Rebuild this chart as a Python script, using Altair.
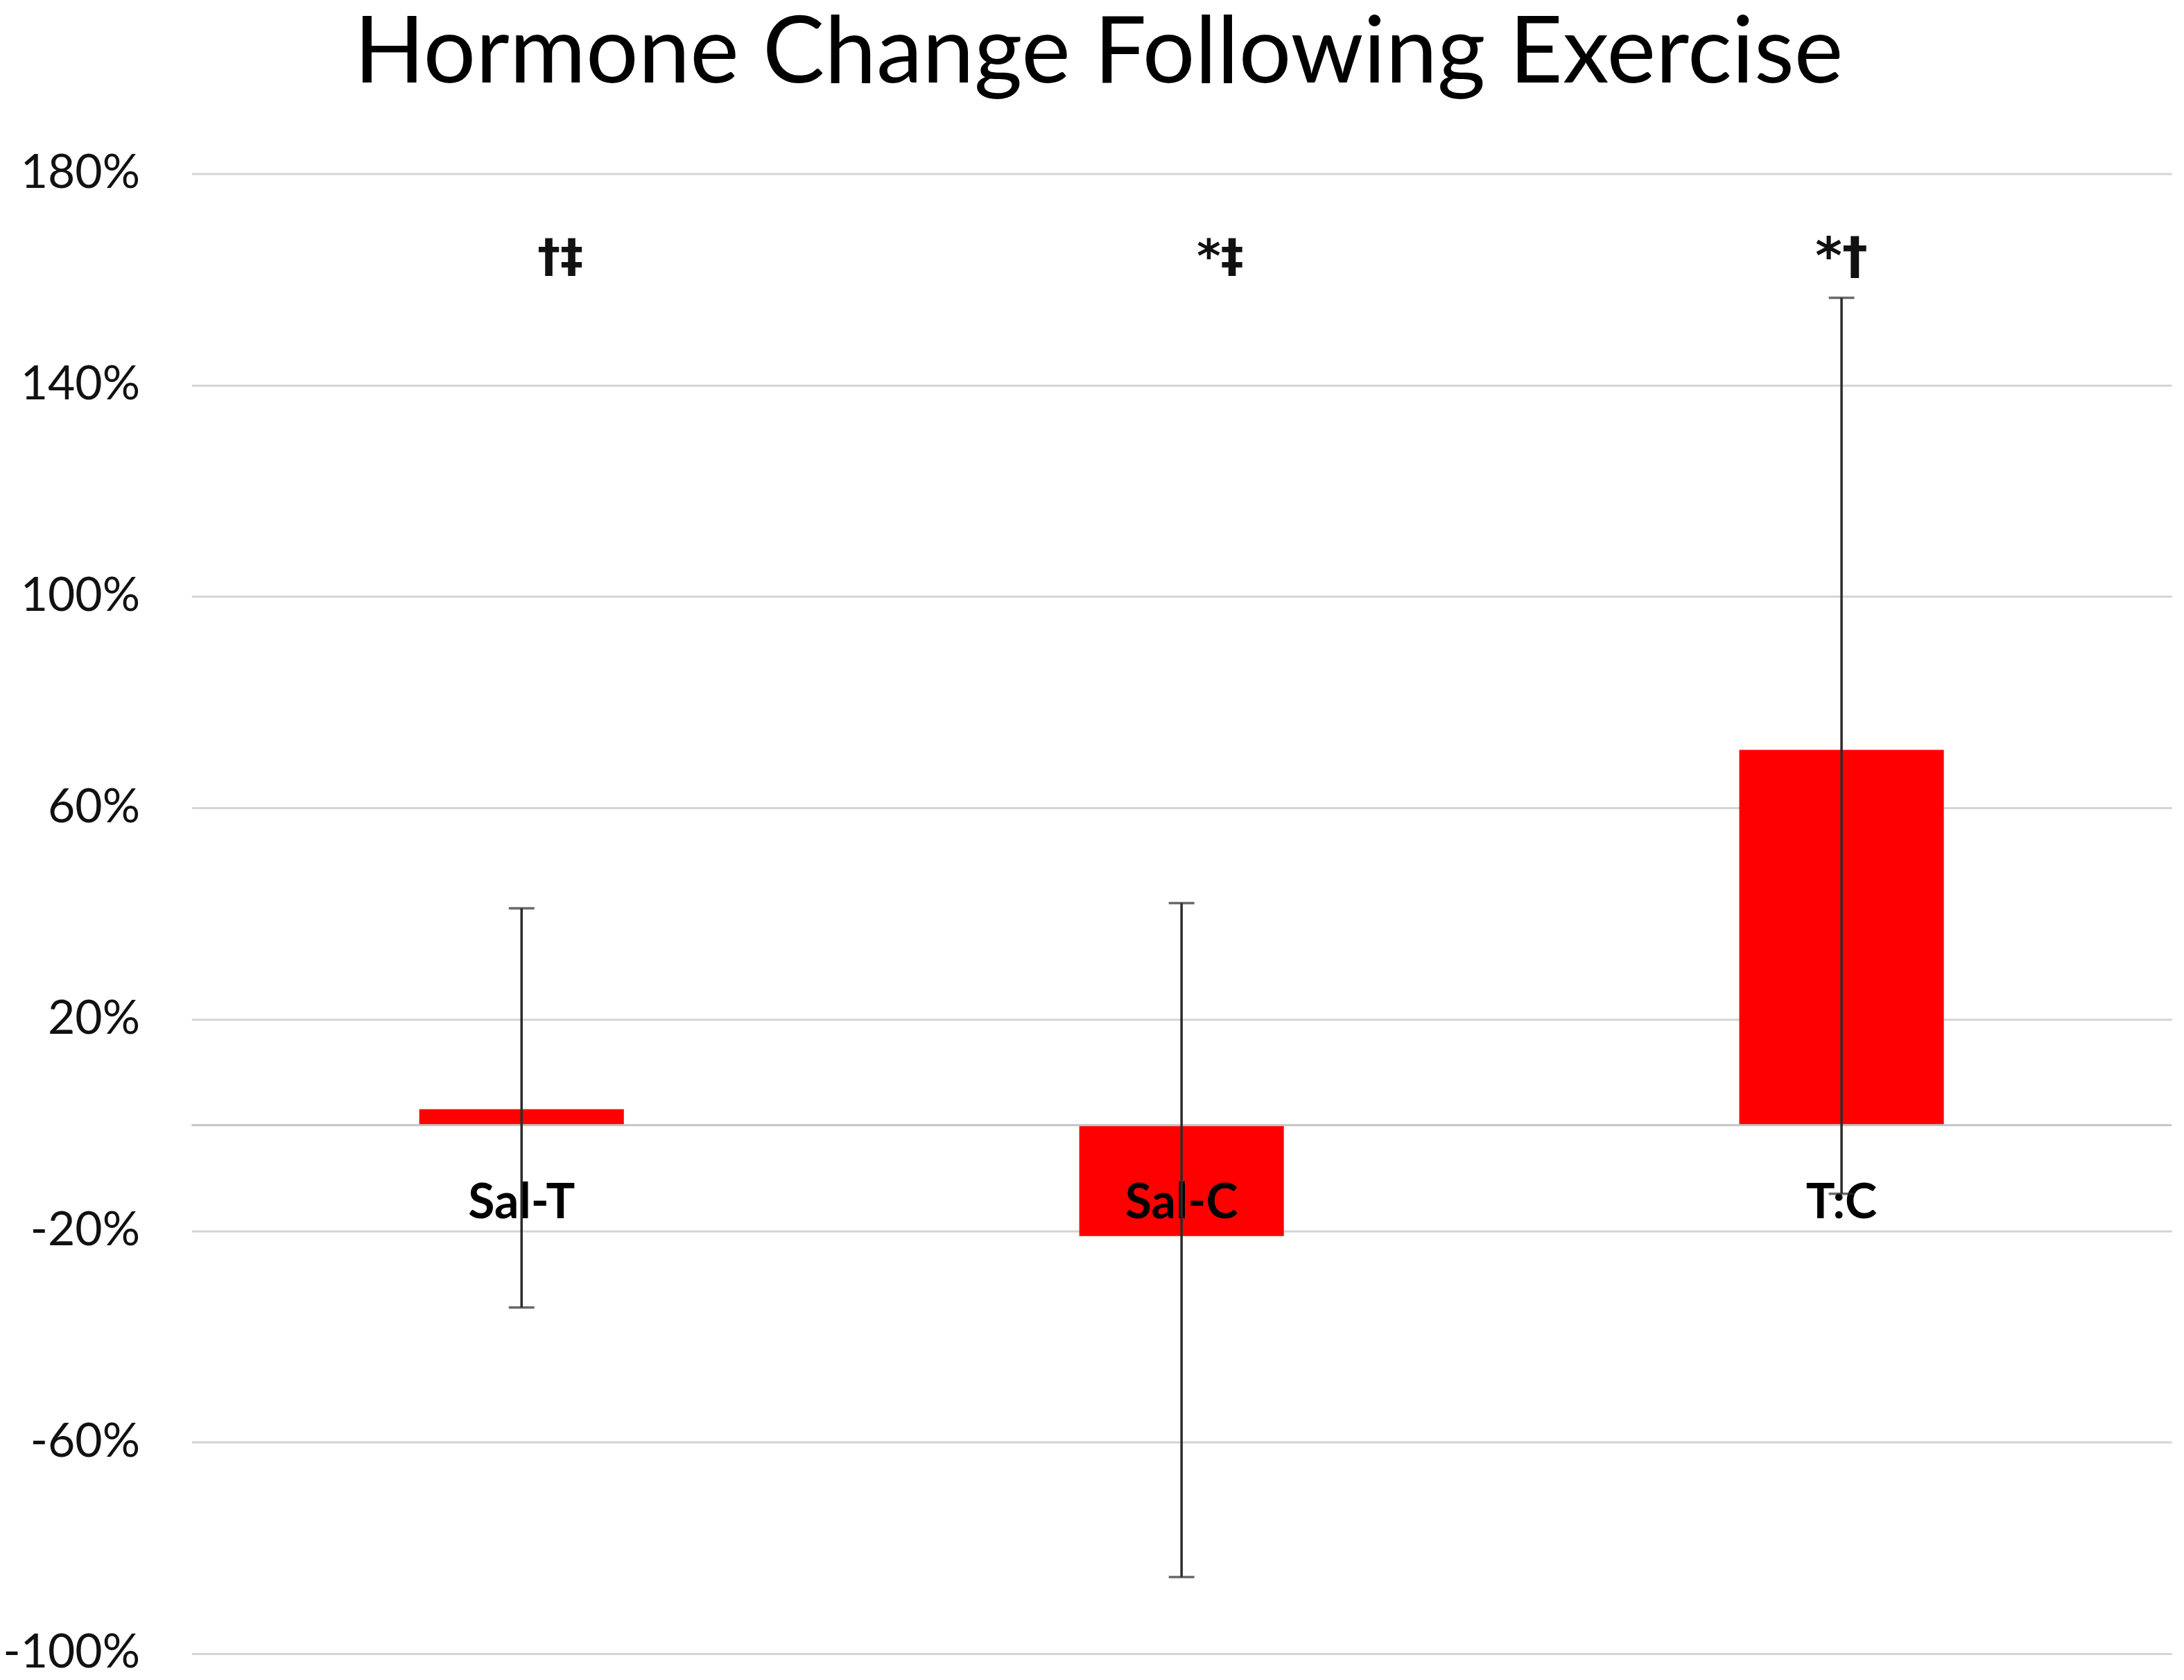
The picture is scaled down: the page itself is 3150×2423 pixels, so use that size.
import altair as alt
import pandas as pd

categories = ["Sal-T", "Sal-C", "T:C"]
mean_change = [3, -21, 71]
err_lower = [-34.5, -85.5, -13]
err_upper = [41, 42, 156.5]
annotations = ["†‡", "*‡", "*†"]
y_ticks = [-100, -60, -20, 20, 60, 100, 140, 180]

df = pd.DataFrame({
    "cat": categories,
    "mean": mean_change,
    "lo": err_lower,
    "hi": err_upper,
    "ann": annotations,
})

FONT = "Lato"
x_enc = alt.X("cat:N", sort=categories,
              scale=alt.Scale(paddingInner=0.69, paddingOuter=0.345),
              axis=None)
y_scale = alt.Scale(domain=[-100, 180], nice=False, zero=False)

base = alt.Chart(df)

bars = base.mark_bar(color="#ff0000").encode(
    x=x_enc,
    y=alt.Y("mean:Q", scale=y_scale,
            axis=alt.Axis(values=y_ticks, labelExpr="datum.value + '%'",
                          title=None, domain=False, ticks=False,
                          grid=True, gridColor="#d4d4d4", gridWidth=3,
                          labelFont=FONT, labelFontSize=68, labelColor="#111111",
                          labelPadding=75, labelLimit=500)),
    y2=alt.datum(0),
)

zero_line = alt.Chart(pd.DataFrame({"v": [0]})).mark_rule(
    color="#c4c4c4", strokeWidth=3
).encode(y=alt.Y("v:Q", scale=y_scale))

cat_labels = base.mark_text(
    font=FONT, fontSize=70, fontWeight="bold", color="#000000",
    baseline="middle", dy=114
).encode(x=x_enc, y=alt.datum(0), text="cat:N")

err_line = base.mark_rule(color="#2b2b2b", strokeWidth=3.5).encode(
    x=x_enc, y=alt.Y("lo:Q", scale=y_scale), y2="hi:Q"
)
cap_lo = base.mark_tick(color="#2b2b2b", thickness=3.5, size=37).encode(
    x=x_enc, y=alt.Y("lo:Q", scale=y_scale)
)
cap_hi = base.mark_tick(color="#2b2b2b", thickness=3.5, size=37).encode(
    x=x_enc, y=alt.Y("hi:Q", scale=y_scale)
)

ANN_FONT = "DejaVu Sans"
ann_shift = base.transform_filter(alt.datum.cat != "T:C").mark_text(
    font=ANN_FONT, fontSize=66, fontWeight="bold", color="#111111",
    baseline="middle", dx=56
).encode(x=x_enc, y=alt.datum(164), text="ann:N")
ann_center = base.transform_filter(alt.datum.cat == "T:C").mark_text(
    font=ANN_FONT, fontSize=74, fontWeight="bold", color="#111111",
    baseline="middle", dx=0
).encode(x=x_enc, y=alt.datum(164), text="ann:N")

chart = alt.layer(
    bars, zero_line, cat_labels, err_line, cap_lo, cap_hi, ann_shift, ann_center
).properties(
    width=2863, height=2140,
    background="white",
    title=alt.TitleParams("Hormone Change Following Exercise", font=FONT,
                          fontSize=134, fontWeight=400, color="#000000",
                          anchor="middle", dx=-120, offset=98, dy=134,
                          baseline="alphabetic"),
    autosize=alt.AutoSizeParams(type="none"),
    padding={"left": 269, "top": 240, "right": 10, "bottom": 30},
).configure_view(stroke=None)

chart.save("out.html", embed_options={"renderer": "svg", "actions": False})
